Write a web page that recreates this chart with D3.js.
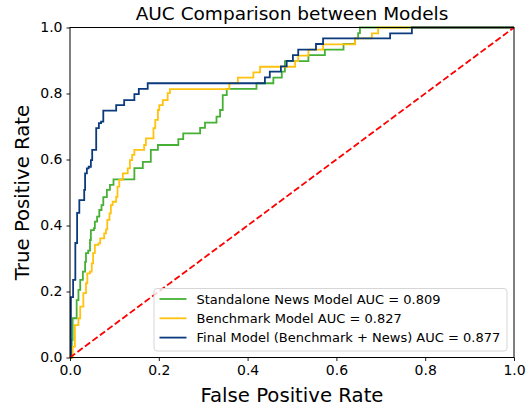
<!DOCTYPE html>
<html>
<head>
<meta charset="utf-8">
<script src="https://cdn.jsdelivr.net/npm/d3@7"></script>
<style>
  body { margin: 0; background: #fff; }
  svg { font-family: "DejaVu Sans", sans-serif; }
</style>
</head>
<body>
<svg id="chart" width="530" height="405"></svg>
<script>
// ROC points: at each fpr the curve rises to the tpr
var newsFpr  = [0, 0.004, 0.006, 0.015, 0.019, 0.023, 0.029, 0.034, 0.036, 0.041, 0.045, 0.047, 0.054, 0.056, 0.061, 0.066, 0.071, 0.075, 0.083, 0.090, 0.098, 0.145, 0.164, 0.182, 0.198, 0.244, 0.255, 0.293, 0.304, 0.330, 0.338, 0.344, 0.353, 0.420, 0.458, 0.477, 0.484, 0.537, 0.574, 0.616, 0.642, 0.649, 0.653, 1];
var newsTpr  = [0, 0.053, 0.119, 0.174, 0.205, 0.235, 0.260, 0.290, 0.316, 0.324, 0.356, 0.386, 0.392, 0.412, 0.427, 0.447, 0.462, 0.486, 0.508, 0.523, 0.540, 0.574, 0.593, 0.629, 0.644, 0.662, 0.679, 0.696, 0.712, 0.730, 0.750, 0.795, 0.814, 0.831, 0.848, 0.866, 0.898, 0.916, 0.933, 0.950, 0.967, 0.983, 1, 1];

var benchFpr = [0, 0.006, 0.011, 0.019, 0.023, 0.030, 0.036, 0.039, 0.045, 0.049, 0.052, 0.056, 0.064, 0.068, 0.077, 0.081, 0.084, 0.089, 0.092, 0.096, 0.104, 0.107, 0.111, 0.119, 0.130, 0.135, 0.140, 0.145, 0.167, 0.171, 0.188, 0.192, 0.198, 0.201, 0.209, 0.220, 0.225, 0.359, 0.378, 0.413, 0.428, 0.507, 0.514, 0.537, 0.570, 0.642, 0.680, 0.694, 1];
var benchTpr = [0, 0.033, 0.098, 0.119, 0.154, 0.195, 0.225, 0.255, 0.260, 0.285, 0.316, 0.341, 0.346, 0.361, 0.376, 0.388, 0.417, 0.437, 0.462, 0.472, 0.487, 0.518, 0.538, 0.558, 0.573, 0.598, 0.614, 0.629, 0.644, 0.664, 0.695, 0.720, 0.750, 0.765, 0.780, 0.801, 0.813, 0.831, 0.848, 0.864, 0.881, 0.898, 0.915, 0.933, 0.949, 0.967, 0.982, 1, 1];

var finalFpr = [0, 0.002, 0.007, 0.012, 0.016, 0.021, 0.032, 0.034, 0.038, 0.042, 0.047, 0.050, 0.059, 0.065, 0.070, 0.075, 0.104, 0.122, 0.145, 0.155, 0.175, 0.439, 0.450, 0.475, 0.488, 0.502, 0.514, 0.554, 0.570, 0.721, 0.770, 1];
var finalTpr = [0, 0.183, 0.235, 0.347, 0.438, 0.477, 0.508, 0.558, 0.573, 0.578, 0.598, 0.629, 0.695, 0.710, 0.715, 0.748, 0.765, 0.780, 0.798, 0.814, 0.831, 0.849, 0.866, 0.882, 0.899, 0.916, 0.933, 0.950, 0.967, 0.982, 1, 1];

var seriesNames = ["Standalone News Model", "Benchmark Model", "Final Model (Benchmark + News)"];
var seriesAuc = [0.809, 0.827, 0.877];
var seriesColors = ["#46b035", "#ffc20e", "#0b3a7d"];
var tickValues = [0, 0.2, 0.4, 0.6, 0.8, 1.0];

var series = [
  { fpr: newsFpr, tpr: newsTpr },
  { fpr: benchFpr, tpr: benchTpr },
  { fpr: finalFpr, tpr: finalTpr }
];

var svg = d3.select("#chart");
var plotLeft = 70, plotRight = 514, plotTop = 27.5, plotBottom = 357.5;

var x = d3.scaleLinear().domain([0, 1]).range([plotLeft, plotRight]);
var y = d3.scaleLinear().domain([0, 1]).range([plotBottom, plotTop]);

// curves
var line = d3.line()
  .x(function(d) { return x(d[0]); })
  .y(function(d) { return y(d[1]); })
  .curve(d3.curveStepAfter);

var plot = svg.append("g");

series.forEach(function(s, i) {
  plot.append("path")
    .datum(d3.zip(s.fpr, s.tpr))
    .attr("fill", "none")
    .attr("stroke", seriesColors[i])
    .attr("stroke-width", 1.8)
    .attr("d", line);
});

// chance line
plot.append("path")
  .datum([[0, 0], [1, 1]])
  .attr("fill", "none")
  .attr("stroke", "red")
  .attr("stroke-width", 1.8)
  .attr("stroke-dasharray", "6.5,2.8")
  .attr("d", d3.line().x(function(d) { return x(d[0]); }).y(function(d) { return y(d[1]); }));

// axes
var xAxis = svg.append("g")
  .attr("transform", "translate(0," + plotBottom + ")")
  .call(d3.axisBottom(x).tickValues(tickValues).tickFormat(d3.format(".1f")).tickSize(3.5).tickSizeOuter(0).tickPadding(4));

var yAxis = svg.append("g")
  .attr("transform", "translate(" + plotLeft + ",0)")
  .call(d3.axisLeft(y).tickValues(tickValues).tickFormat(d3.format(".1f")).tickSize(3.5).tickSizeOuter(0).tickPadding(4));

[xAxis, yAxis].forEach(function(a) {
  a.select(".domain").remove();
  a.selectAll("text").attr("font-size", 14).attr("fill", "#000").attr("font-family", "DejaVu Sans");
  a.selectAll("line").attr("stroke", "#000").attr("stroke-width", 0.9);
});

// spines
svg.append("rect")
  .attr("x", plotLeft).attr("y", plotTop)
  .attr("width", plotRight - plotLeft).attr("height", plotBottom - plotTop)
  .attr("fill", "none")
  .attr("stroke", "#000")
  .attr("stroke-width", 1);

// title and labels
svg.append("text")
  .attr("x", (plotLeft + plotRight) / 2).attr("y", 20)
  .attr("text-anchor", "middle")
  .attr("font-size", 18.5)
  .text("AUC Comparison between Models");

svg.append("text")
  .attr("x", (plotLeft + plotRight) / 2).attr("y", 401.5)
  .attr("text-anchor", "middle")
  .attr("font-size", 19.7)
  .text("False Positive Rate");

svg.append("text")
  .attr("transform", "translate(28.5," + (plotTop + plotBottom) / 2 + ") rotate(-90)")
  .attr("text-anchor", "middle")
  .attr("font-size", 19.7)
  .text("True Positive Rate");

// legend
var legend = svg.append("g");
legend.append("rect")
  .attr("x", 154).attr("y", 288.5)
  .attr("width", 353).attr("height", 62.5)
  .attr("rx", 3).attr("ry", 3)
  .attr("fill", "#fff").attr("fill-opacity", 0.8)
  .attr("stroke", "#d6d6d6").attr("stroke-width", 1);

seriesNames.forEach(function(name, i) {
  var cy = 299 + i * 19.3;
  legend.append("line")
    .attr("x1", 159.5).attr("x2", 186.5)
    .attr("y1", cy).attr("y2", cy)
    .attr("stroke", seriesColors[i])
    .attr("stroke-width", 1.8);
  legend.append("text")
    .attr("x", 196.5).attr("y", cy + 4.7)
    .attr("font-size", 13)
    .text(name + " AUC = " + seriesAuc[i].toFixed(3));
});
</script>
</body>
</html>
